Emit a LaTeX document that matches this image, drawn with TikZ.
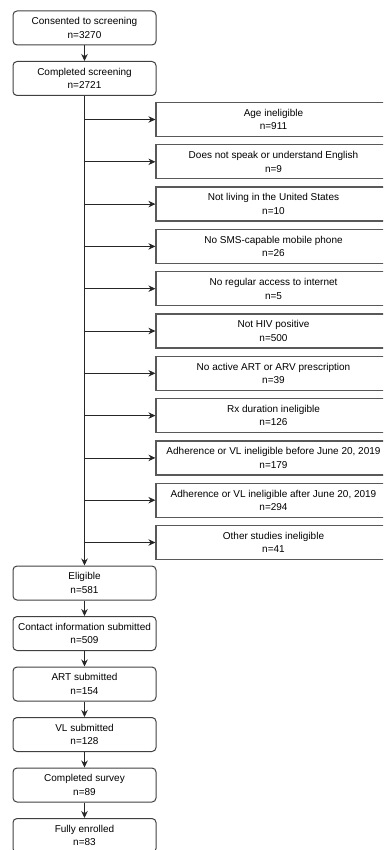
\documentclass[tikz,border=0pt]{standalone}
\usepackage{fontspec}
\setmainfont{Liberation Sans}
\usetikzlibrary{arrows.meta}
\begin{document}
\begin{tikzpicture}[x=1pt,y=-1pt,
  lbox/.style={draw=black!75, line width=1pt, rounded corners=4pt, minimum width=143pt, minimum height=34pt, align=center, inner sep=0pt, font=\fontsize{10}{13.5}\selectfont},
  rbox/.style={draw=black!65, line width=1.2pt, minimum width=235pt, minimum height=34pt, align=center, inner sep=0pt, font=\fontsize{10}{13.5}\selectfont},
  arr/.style={draw=black!85, line width=0.8pt, -{Stealth[length=7pt,width=6.5pt]}}]
\useasboundingbox (0,0) rectangle (383,850);
\clip (0,0) rectangle (383,850);
\node[lbox] (b1) at (84.5,28) {Consented to screening\\n=3270};
\node[lbox] (b2) at (84.5,78.5) {Completed screening\\n=2721};
\node[rbox] (r1) at (273.5,119.5) {Age ineligible\\n=911};
\node[rbox] (r2) at (273.5,161.8) {Does not speak or understand English\\n=9};
\node[rbox] (r3) at (273.5,204.1) {Not living in the United States\\n=10};
\node[rbox] (r4) at (273.5,246.4) {No SMS-capable mobile phone\\n=26};
\node[rbox] (r5) at (273.5,288.7) {No regular access to internet\\n=5};
\node[rbox] (r6) at (273.5,331.0) {Not HIV positive\\n=500};
\node[rbox] (r7) at (273.5,373.3) {No active ART or ARV prescription\\n=39};
\node[rbox] (r8) at (273.5,415.6) {Rx duration ineligible\\n=126};
\node[rbox] (r9) at (273.5,457.9) {Adherence or VL ineligible before June 20, 2019\\n=179};
\node[rbox] (r10) at (273.5,500.2) {Adherence or VL ineligible after June 20, 2019\\n=294};
\node[rbox] (r11) at (273.5,542.5) {Other studies ineligible\\n=41};
\node[lbox] (b3) at (84.5,583) {Eligible\\n=581};
\node[lbox] (b4) at (84.5,633.5) {Contact information submitted\\n=509};
\node[lbox] (b5) at (84.5,684) {ART submitted\\n=154};
\node[lbox] (b6) at (84.5,734.5) {VL submitted\\n=128};
\node[lbox] (b7) at (84.5,785) {Completed survey\\n=89};
\node[lbox] (b8) at (84.5,835.5) {Fully enrolled\\n=83};
\draw[arr] (b1) -- (b2);
\draw[arr] (b2) -- (b3);
\foreach \i in {1,...,11} {\draw[arr] (b2.south |- r\i.west) -- (r\i.west);}
\draw[arr] (b3) -- (b4);
\draw[arr] (b4) -- (b5);
\draw[arr] (b5) -- (b6);
\draw[arr] (b6) -- (b7);
\draw[arr] (b7) -- (b8);
\end{tikzpicture}
\end{document}
